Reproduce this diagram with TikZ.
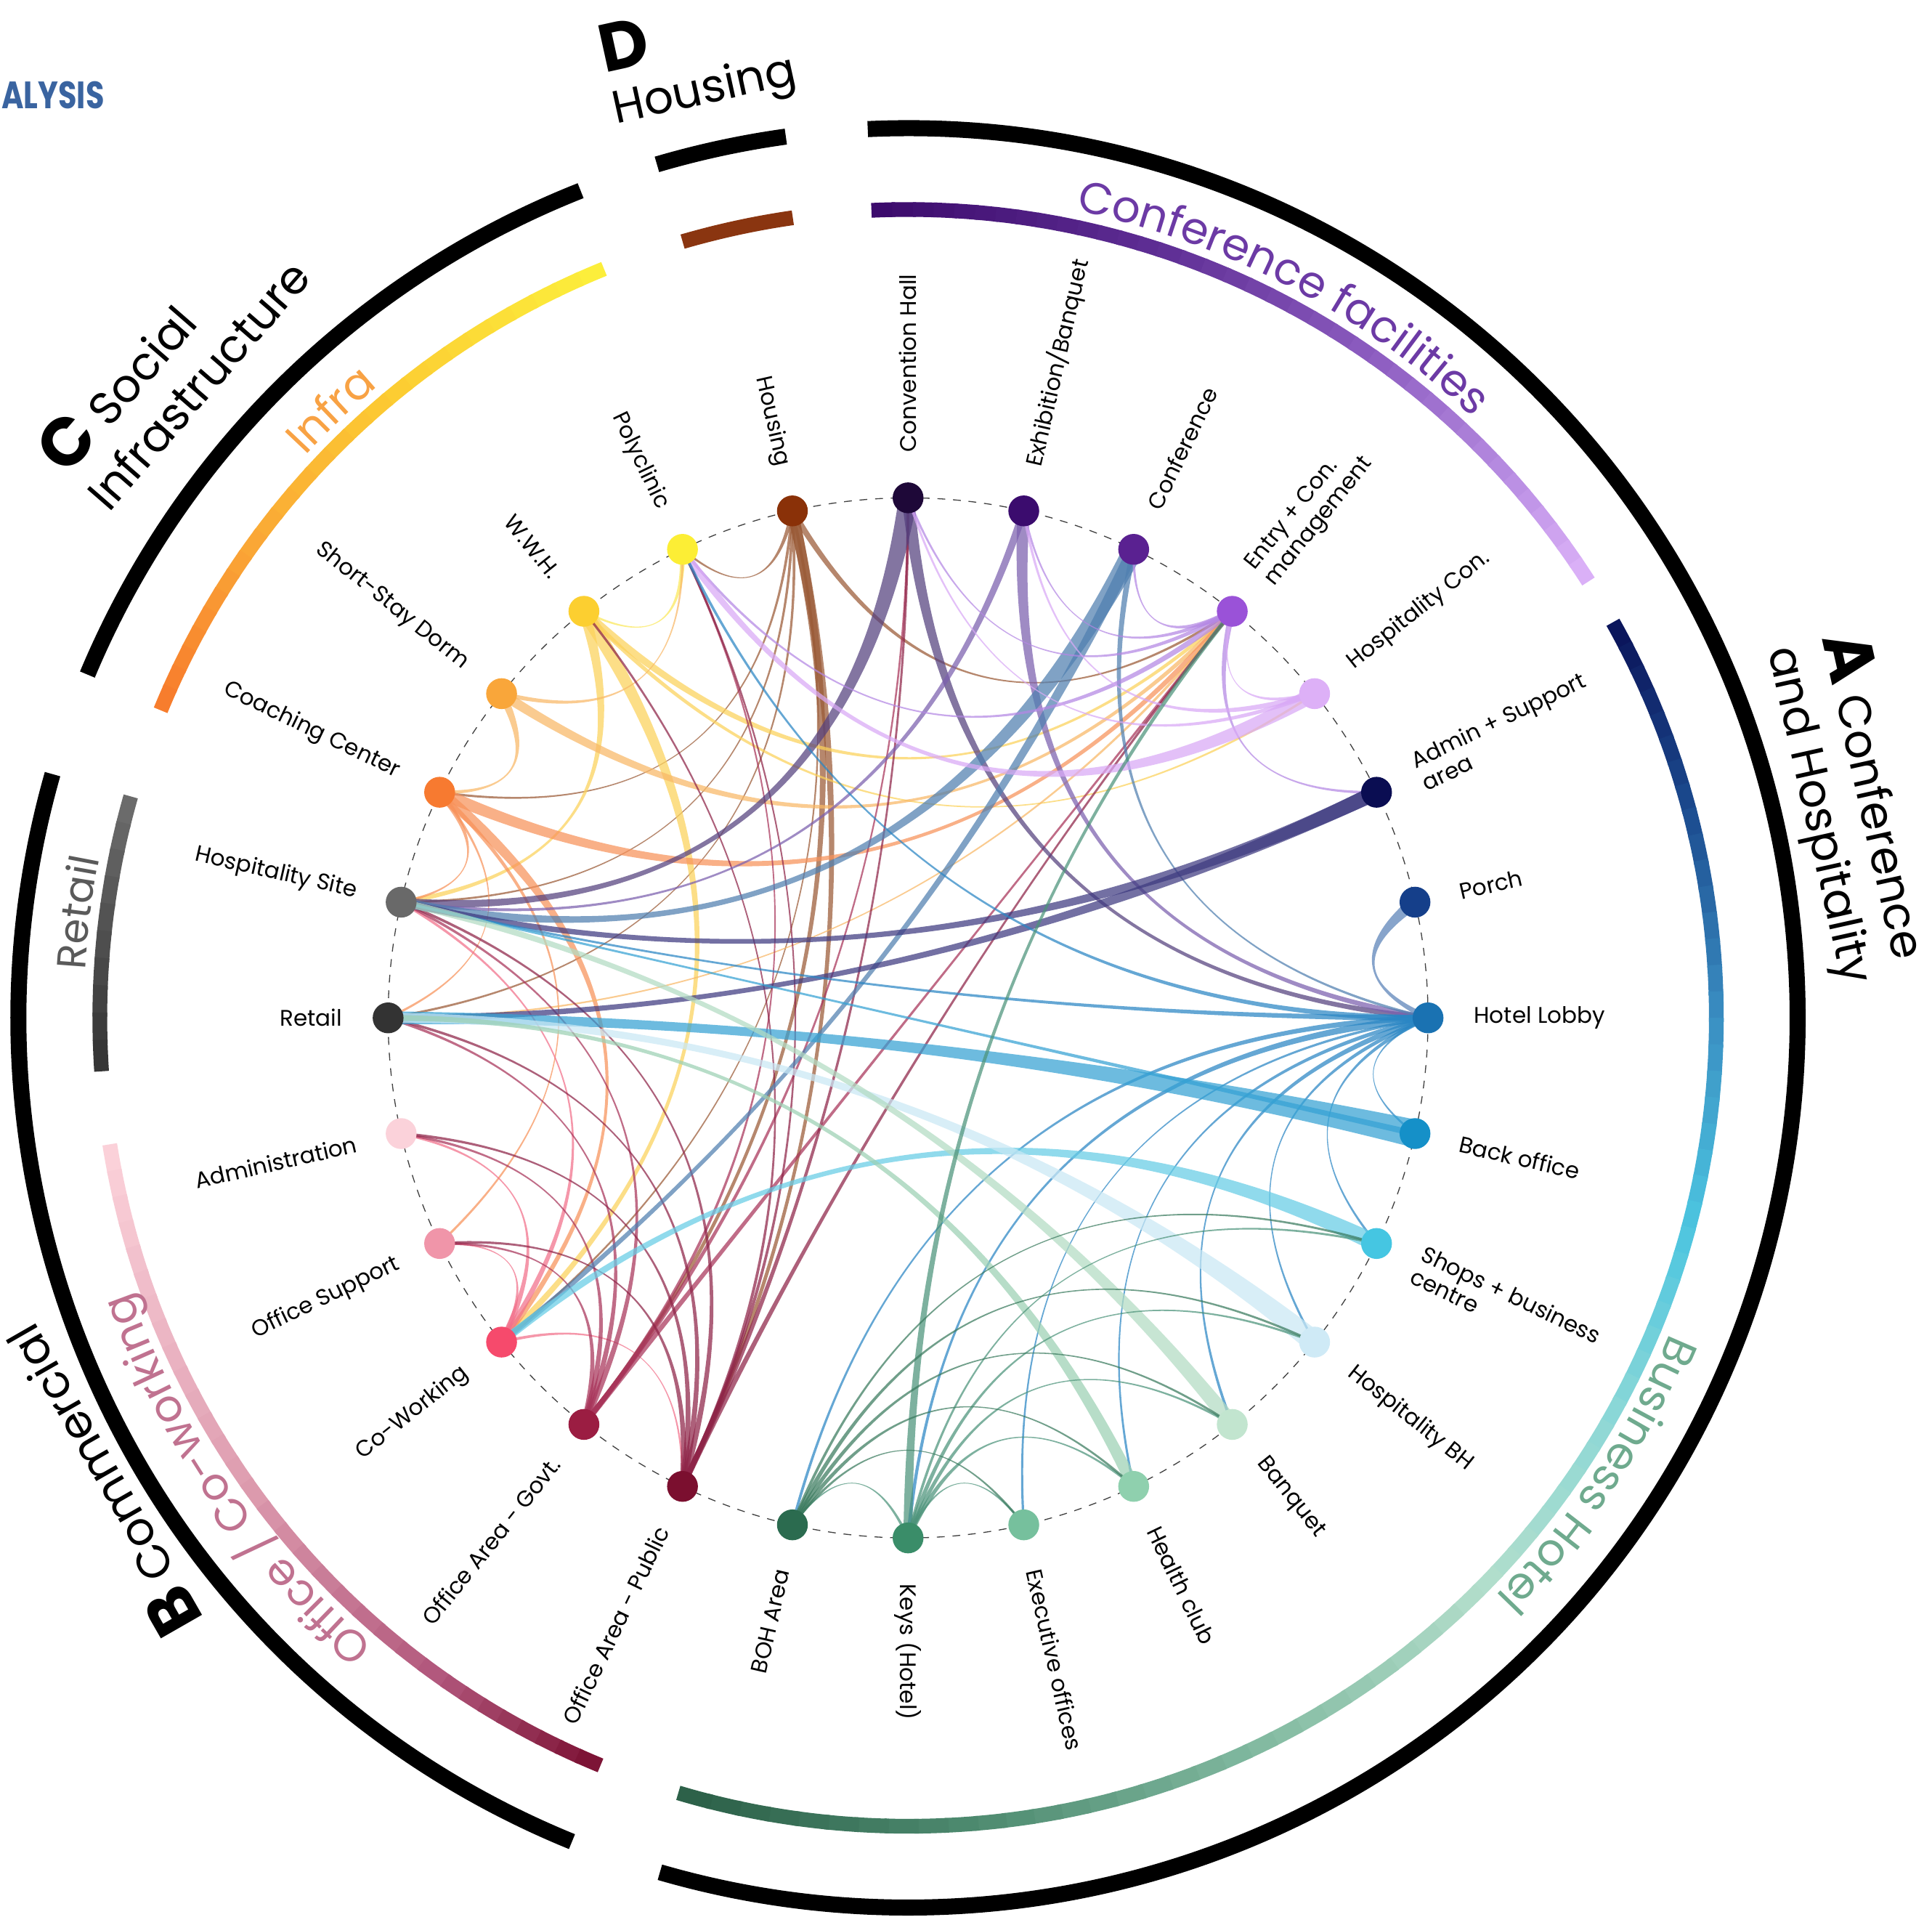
\documentclass[tikz,border=0pt]{standalone}
\usepackage{fontspec}
\setmainfont{Poppins}
\usetikzlibrary{calc,decorations.text}
\pgfdeclarelayer{back}
\pgfdeclarelayer{bg}
\pgfsetlayers{back,bg,main}

% node colours
\definecolor{k0}{HTML}{1E0838}\definecolor{k1}{HTML}{3B0C6E}\definecolor{k2}{HTML}{5A2191}
\definecolor{k3}{HTML}{9A52D8}\definecolor{k4}{HTML}{DDB0F7}\definecolor{k5}{HTML}{0A0D52}
\definecolor{k6}{HTML}{153F8A}\definecolor{k7}{HTML}{1A72B2}\definecolor{k8}{HTML}{1590C8}
\definecolor{k9}{HTML}{45C6E2}\definecolor{k10}{HTML}{CFEAF6}\definecolor{k11}{HTML}{C2E5CF}
\definecolor{k12}{HTML}{8FD0AE}\definecolor{k13}{HTML}{76C09D}\definecolor{k14}{HTML}{3A8D69}
\definecolor{k15}{HTML}{2B6B4F}\definecolor{k16}{HTML}{7B0F2F}\definecolor{k17}{HTML}{9B1D42}
\definecolor{k18}{HTML}{F64A6C}\definecolor{k19}{HTML}{F095A9}\definecolor{k20}{HTML}{FBD2DA}
\definecolor{k21}{HTML}{333333}\definecolor{k22}{HTML}{696969}\definecolor{k23}{HTML}{F77A30}
\definecolor{k24}{HTML}{F9A63A}\definecolor{k25}{HTML}{FCCF30}\definecolor{k26}{HTML}{FCEE35}
\definecolor{k27}{HTML}{8A3108}
% chord colours (by source node)
\definecolor{ch0}{HTML}{54407E}\definecolor{ch1}{HTML}{7B5FAE}\definecolor{ch2}{HTML}{4F7FB0}
\definecolor{ch3}{HTML}{B487E4}\definecolor{ch4}{HTML}{D9A9F6}\definecolor{ch5}{HTML}{3E3A80}
\definecolor{ch6}{HTML}{5A82B8}\definecolor{ch7}{HTML}{2A86C4}\definecolor{ch8}{HTML}{35A2D4}
\definecolor{ch9}{HTML}{66CDE6}\definecolor{ch10}{HTML}{C9E8F5}\definecolor{ch11}{HTML}{B2DBC3}
\definecolor{ch12}{HTML}{9CD1B4}\definecolor{ch13}{HTML}{7ABF9E}\definecolor{ch14}{HTML}{4C937A}
\definecolor{ch15}{HTML}{3A7A5E}\definecolor{ch16}{HTML}{8E2448}\definecolor{ch17}{HTML}{A8345A}
\definecolor{ch18}{HTML}{F2708A}\definecolor{ch19}{HTML}{F09AAE}\definecolor{ch20}{HTML}{F6C4CE}
\definecolor{ch21}{HTML}{555555}\definecolor{ch22}{HTML}{777777}\definecolor{ch23}{HTML}{F8925A}
\definecolor{ch24}{HTML}{F9B866}\definecolor{ch25}{HTML}{FCD25A}\definecolor{ch26}{HTML}{FBE85A}
\definecolor{ch27}{HTML}{9A5A36}
% ring colours
\definecolor{cfA}{HTML}{3B0A6B}\definecolor{cfB}{HTML}{5E2E94}\definecolor{cfC}{HTML}{8C5CC0}
\definecolor{cfD}{HTML}{B88DE2}\definecolor{cfE}{HTML}{DDB3F9}
\definecolor{bhA}{HTML}{0A1258}\definecolor{bhB}{HTML}{1B4A8E}\definecolor{bhC}{HTML}{3A8EC2}
\definecolor{bhD}{HTML}{4CC5E0}\definecolor{bhE}{HTML}{8ED8D6}\definecolor{bhF}{HTML}{B3DECB}
\definecolor{bhG}{HTML}{80B89F}\definecolor{bhH}{HTML}{4E8B70}\definecolor{bhI}{HTML}{2B5F47}
\definecolor{inA}{HTML}{FCF03C}\definecolor{inB}{HTML}{FCCB32}\definecolor{inC}{HTML}{FAA536}
\definecolor{inD}{HTML}{F77A2C}
\definecolor{reA}{HTML}{6E6E6E}\definecolor{reB}{HTML}{333333}
\definecolor{ofA}{HTML}{FCD3DB}\definecolor{ofB}{HTML}{DE9DB0}\definecolor{ofC}{HTML}{B0557A}
\definecolor{ofD}{HTML}{7A1032}
\definecolor{hous}{HTML}{8A3510}
\definecolor{tcf}{HTML}{6C3AA5}\definecolor{tbh}{HTML}{6FAA8E}\definecolor{tof}{HTML}{C07290}
\definecolor{tin}{HTML}{F8A244}\definecolor{tre}{HTML}{5A5A5A}\definecolor{alys}{HTML}{3A64A0}

\newcommand\ringfont{\fontsize{25.6}{30}\selectfont}
\newcommand\retfont{\fontsize{23.5}{28}\selectfont}
\newcommand\grpletter[1]{{\fontsize{39}{38}\selectfont\bfseries #1}}

% tapered chord: [colour]{thick-end node}{thin-end node}{width in px}
\newcommand\rib[4][]{%
  \def\rc{#1}\ifx\rc\empty\def\rc{ch#2}\fi
  \pgfmathsetmacro\aA{90-#2*360/28}%
  \pgfmathsetmacro\aB{90-#3*360/28}%
  \pgfmathtruncatemacro\dd{abs(#2-#3)}%
  \pgfmathsetmacro\md{(\aA+\aB)/2+(\dd>14)*180}%
  \pgfmathsetmacro\ds{min(\dd,28-\dd)*360/28}%
  \pgfmathsetmacro\pr{max(0,0.92-\ds/120)*422*cos(\ds/2)}%
  \pgfmathsetmacro\hwan{#4*0.445}%
  \pgfmathsetmacro\hwbn{max(#4*0.21,0.7)}%
  \coordinate (cp) at (\md:\pr);%
  \coordinate (a1) at ($(n#2.center)!\hwan pt!90:(cp)$);%
  \coordinate (a2) at ($(n#2.center)!\hwan pt!-90:(cp)$);%
  \coordinate (b1) at ($(n#3.center)!\hwbn pt!-90:(cp)$);%
  \coordinate (b2) at ($(n#3.center)!\hwbn pt!90:(cp)$);%
  \fill[\rc] (a1) .. controls ($(a1)!0.6667!(cp)$) and ($(b1)!0.6667!(cp)$) .. (b1)
     -- (b2) .. controls ($(b2)!0.6667!(cp)$) and ($(a2)!0.6667!(cp)$) .. (a2) -- cycle;%
}

% gradient arc: radius, a1, a2, colour1, colour2, segments
\newcommand\garc[6]{%
  \foreach \j in {1,...,#6}{%
    \pgfmathsetmacro\sa{#2+(#3-#2)*(\j-1)/#6}%
    \pgfmathsetmacro\ea{#2+(#3-#2)*(\j+0.15)/#6}%
    \pgfmathtruncatemacro\pc{100-100*(\j-0.5)/#6}%
    \colorlet{gtmp}{#4!\pc!#5}%
    \draw[ring,gtmp] (\sa:#1) arc[start angle=\sa, end angle=\ea, radius=#1];
  }%
}

\begin{document}
\begin{tikzpicture}[x=0.025cm,y=0.025cm,
  dot/.style={circle,inner sep=0pt,minimum size=17.8pt},
  lbl/.style={font=\fontsize{13}{14.5}\selectfont,inner sep=0pt},
  blk/.style={line width=9.25pt,black},
  ring/.style={line width=8.5pt},
  grp/.style={align=left,inner sep=0pt,font=\fontsize{26.5}{32}\selectfont}]
\begin{pgfonlayer}{back}
\fill[white] (-737,-736) rectangle (831,826);
\end{pgfonlayer}
\useasboundingbox (-737,-736) rectangle (831,826);

% ---- outer black rings
\draw[blk] (92.6:722) arc[start angle=92.6, end angle=-106.2, radius=722];
\draw[blk] (164.1:722) arc[start angle=164.1, end angle=247.8, radius=722];
\draw[blk] (111.6:722) arc[start angle=111.6, end angle=157.3, radius=722];
\draw[blk] (97.9:722) arc[start angle=97.9, end angle=106.4, radius=722];

% ---- coloured rings
\garc{656}{92.6}{72}{cfA}{cfB}{14}
\garc{656}{72}{55}{cfB}{cfC}{10}
\garc{656}{55}{42}{cfC}{cfD}{8}
\garc{656}{42}{32.9}{cfD}{cfE}{6}
\garc{656}{29.3}{15}{bhA}{bhB}{8}
\garc{656}{15}{0}{bhB}{bhC}{8}
\garc{656}{0}{-15}{bhC}{bhD}{8}
\garc{656}{-15}{-30}{bhD}{bhE}{8}
\garc{656}{-30}{-45}{bhE}{bhF}{8}
\garc{656}{-45}{-65}{bhF}{bhG}{10}
\garc{656}{-65}{-85}{bhG}{bhH}{10}
\garc{656}{-85}{-106.2}{bhH}{bhI}{10}
\draw[ring,hous] (98.2:656) arc[start angle=98.2, end angle=106.2, radius=656];
\garc{656}{112.1}{130}{inA}{inB}{10}
\garc{656}{130}{145}{inB}{inC}{8}
\garc{656}{145}{157.4}{inC}{inD}{8}
\garc{656}{164.1}{183.5}{reA}{reB}{10}
\garc{656}{189}{215}{ofA}{ofB}{14}
\garc{656}{215}{235}{ofB}{ofC}{10}
\garc{656}{235}{247.4}{ofC}{ofD}{8}

% ---- ring texts
\path[decorate,decoration={text along path,text align=center,text color=tcf,
  text={|\ringfont|Conference facilities}}] (85:669) arc[start angle=85, end angle=40, radius=669];
\path[decorate,decoration={text along path,text align=center,text color=tbh,
  text={|\ringfont|Business Hotel}}] (-10:669) arc[start angle=-10, end angle=-57, radius=669];
\path[decorate,decoration={text along path,text align=center,text color=tof,
  text={|\ringfont|Office / Co-working}}] (240:669) arc[start angle=240, end angle=189, radius=669];
\path[decorate,decoration={text along path,text align=center,text color=tin,
  text={|\ringfont|Infra}}] (150:669) arc[start angle=150, end angle=117, radius=669];
\path[decorate,decoration={text along path,text align=center,text color=tre,
  text={|\retfont|Retail}}] (185:669) arc[start angle=185, end angle=160.5, radius=669];

% ---- group labels
\node[grp,rotate=-77.45] (gA) at (12.55:783) {\grpletter{A} Conference\\and Hospitality};
\node[grp,rotate=49] (gC) at (138.3:800) {\grpletter{C} Social\\Infrastructure};
\node[grp,rotate=12.4] (gD) at (102.4:795) {\grpletter{D}\\[-2pt]Housing};
\node[grp,rotate=119.8] (gB) at (209.8:757) {\grpletter{B} Commercial};
\node[anchor=east,inner sep=0pt,text=alys,font=\fontsize{22}{24}\selectfont\bfseries] (ttl) at (-652,749)
  {\scalebox{0.79}[1]{ALYSIS}};

% ---- nodes
\foreach \i in {0,...,27}{
  \node[dot,fill=k\i] (n\i) at ({90-\i*360/28}:422) {};
}

% ---- labels
\foreach \i/\t in {0/Convention Hall,1/{Exhibition/Banquet},2/Conference,3/{Entry + Con.\\management},
  4/Hospitality Con.,5/{Admin + Support\\area},6/Porch,7/Hotel Lobby,8/Back office,
  9/{Shops + business\\centre},10/Hospitality BH,11/Banquet,12/Health club,13/Executive offices,
  14/{Keys (Hotel)}}{
  \node[lbl,align=left,anchor=west,rotate={90-\i*360/28}] (l\i) at ({90-\i*360/28}:459) {\t};
}
\foreach \i/\t in {15/BOH Area,16/Office Area - Public,17/Office Area - Govt.,18/Co-Working,
  19/Office Support,20/Administration,21/Retail,22/Hospitality Site,23/Coaching Center,
  24/Short-Stay Dorm,25/W.W.H.,26/Polyclinic,27/Housing}{
  \node[lbl,align=right,anchor=east,rotate={-90-\i*360/28}] (l\i) at ({90-\i*360/28}:459) {\t};
}

% ---- dashed circle and chords (below nodes)
\begin{pgfonlayer}{bg}
\draw[dash pattern=on 4.5pt off 4.5pt,line width=0.55pt,black!75] (0,0) circle[radius=422];
\begin{scope}[fill opacity=0.72]
\rib{27}{26}{3}\rib{27}{23}{2}\rib{27}{22}{2}\rib{27}{21}{2}\rib{27}{3}{4}\rib{27}{17}{7}\rib{27}{16}{7}\rib{27}{18}{2}
\rib{26}{25}{3.5}
\rib{25}{18}{9}\rib{25}{22}{7}\rib{25}{3}{5.5}\rib{25}{4}{3}
\rib{24}{3}{6.5}\rib{24}{23}{5.5}\rib{24}{26}{3}
\rib{23}{3}{8}\rib{23}{22}{4}\rib{23}{18}{8}\rib{23}{19}{3}\rib{23}{21}{2}
\rib[ch24]{3}{21}{2}
\rib{18}{20}{4}\rib{18}{19}{3}\rib{18}{22}{4}\rib{18}{16}{2}
\rib{17}{3}{4}\rib{17}{22}{4}\rib{17}{21}{4}\rib{17}{20}{4}\rib{17}{19}{4}\rib{17}{26}{3}\rib{17}{0}{3.5}
\rib{16}{3}{4}\rib{16}{22}{4}\rib{16}{21}{4}\rib{16}{20}{4}\rib{16}{19}{4}\rib{16}{26}{3}\rib{16}{25}{3}\rib{16}{0}{4}
\rib{0}{22}{12}\rib{0}{7}{8}
\rib{1}{7}{8}\rib{1}{22}{5}
\rib{2}{22}{13}\rib{2}{18}{8}\rib{2}{7}{4}
\rib{3}{2}{4}\rib{3}{0}{3}\rib{3}{1}{3}\rib{3}{5}{4}\rib{3}{26}{4}
\rib{4}{26}{10}\rib{4}{0}{3}\rib{4}{1}{4}\rib{4}{3}{3}
\rib{5}{22}{10}\rib{5}{21}{10}
\rib{6}{7}{8}
\rib{7}{22}{4}\rib{7}{26}{4}\rib{7}{14}{5}\rib{7}{15}{4}\rib{7}{13}{2}\rib{7}{12}{3}\rib{7}{11}{4}\rib{7}{10}{3}\rib{7}{9}{3}\rib{7}{8}{2}
\rib{8}{21}{18}\rib{8}{22}{4}
\rib{9}{18}{11}
\rib{10}{21}{14}
\rib{11}{22}{10}
\rib{12}{21}{8}
\rib{14}{3}{6}\rib{14}{10}{3}\rib{14}{11}{3}\rib{14}{12}{3.5}\rib{14}{13}{2}\rib{14}{15}{2}\rib{14}{9}{2}
\rib{15}{10}{3}\rib{15}{11}{3}\rib{15}{12}{3}\rib{15}{13}{2}\rib{15}{9}{2}
\end{scope}
\end{pgfonlayer}
\end{tikzpicture}
\end{document}
